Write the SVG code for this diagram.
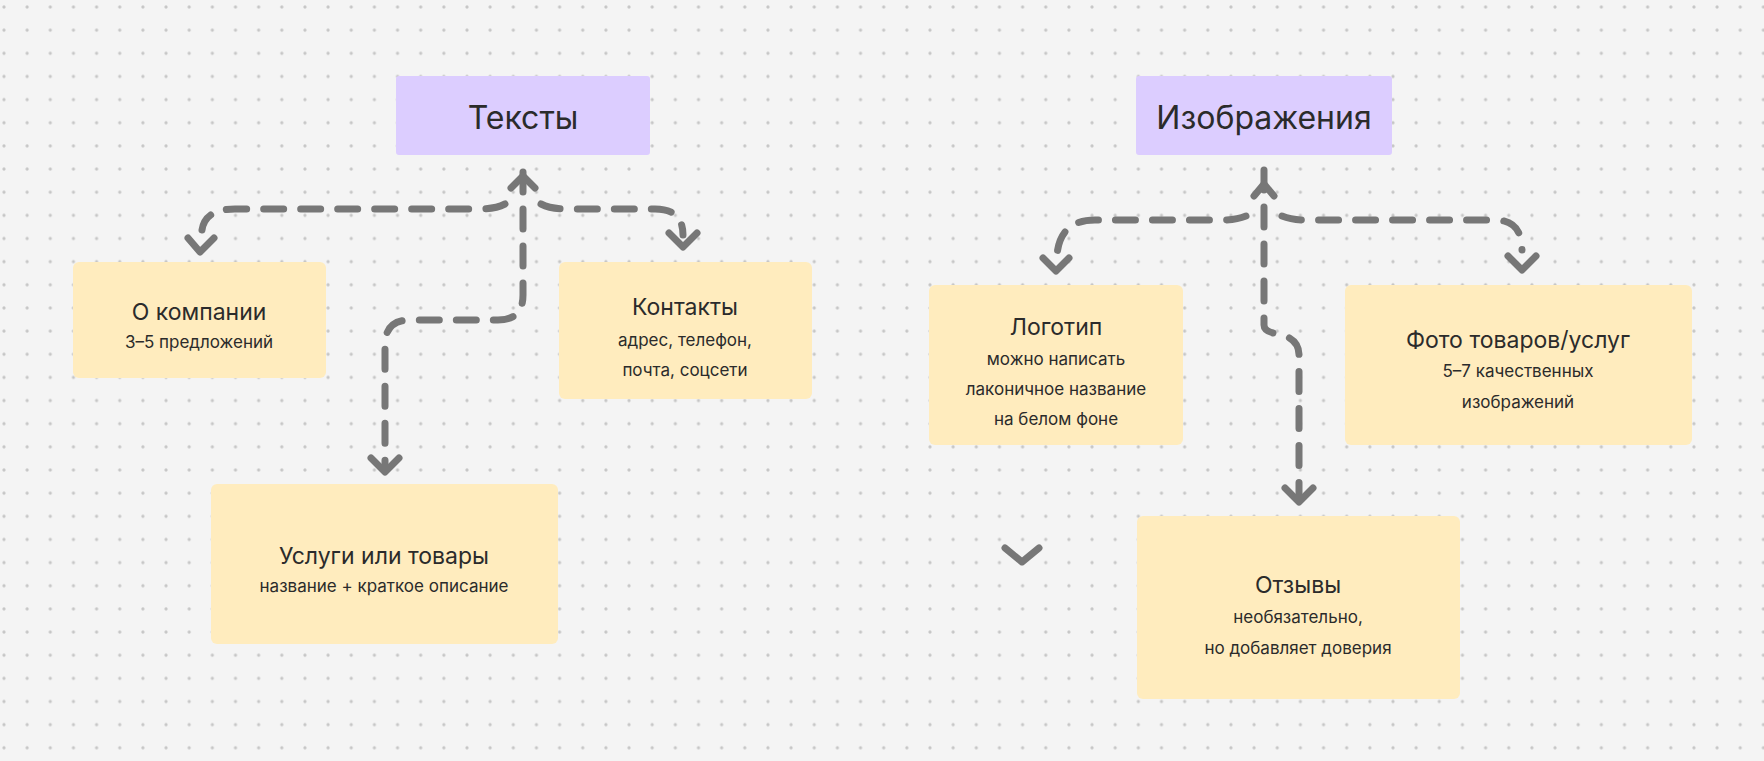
<svg xmlns="http://www.w3.org/2000/svg" width="1764" height="761" viewBox="0 0 1764 761">
<defs>
<pattern id="dots" x="4" y="7" width="23.15" height="23.15" patternUnits="userSpaceOnUse"><circle cx="0" cy="0" r="1.6" fill="#c6c6c6"/><circle cx="23.15" cy="0" r="1.6" fill="#c6c6c6"/><circle cx="0" cy="23.15" r="1.6" fill="#c6c6c6"/><circle cx="23.15" cy="23.15" r="1.6" fill="#c6c6c6"/></pattern>
</defs>
<style>
.t{font-family:Inter,"Noto Sans",sans-serif;fill:#2b2b2b;text-anchor:middle;dominant-baseline:central}
.h{font-size:32px}.n{font-size:23px}.s{font-size:17px}
.p{fill:#dccdff}.y{fill:#ffecbe}
.c{fill:none;stroke:#777;stroke-width:7;stroke-linecap:round;stroke-linejoin:round}
.d{stroke-dasharray:20 17}
</style>
<rect width="1764" height="761" fill="#f4f4f4"/>
<rect width="1764" height="761" fill="url(#dots)"/>
<g id="connectors">
<path class="c d" d="M523 172 V295 Q523 320 498 320 H410 Q385 320 385 345 V470"/>
<path class="c d" d="M505 204 Q495 209 480 209 H235 Q205 209 202 230"/>
<path class="c d" d="M541 204 Q551 209 566 209 H655 Q683 209 683 235"/>
<path class="c" d="M371 458 L385 472 L399 458 M188 238 L200 252 L214 238 M669 233 L683 247 L697 233 M511 188 L523 176 L535 188"/>
<path class="c d" d="M1264 170 V325 Q1264 332 1278 334 Q1299 338 1299 355 V500"/>
<path class="c d" d="M1246 216 Q1236 220 1222 220 H1095 Q1060 220 1057 255"/>
<path class="c d" d="M1282 216 Q1292 220 1306 220 H1495 Q1522 220 1522 250"/>
<path class="c" d="M1043 258 L1056 271 L1069 258 M1285 488 L1299 502 L1313 488 M1508 256 L1522 270 L1536 256 M1254 196 L1264 184 L1274 196 M1005 548 L1022 562 L1039 548"/>
</g>
<g id="n-texts"><rect class="p" x="396" y="76" width="254" height="79" rx="3"/><text class="t h" x="523" y="117">Тексты</text></g>
<g id="n-images"><rect class="p" x="1136" y="76" width="256" height="79" rx="3"/><text class="t h" x="1264" y="117">Изображения</text></g>
<g id="n-about"><rect class="y" x="73" y="262" width="253" height="116" rx="6"/><text class="t n" x="199" y="312">О компании</text><text class="t s" x="199" y="342">3–5 предложений</text></g>
<g id="n-contacts"><rect class="y" x="559" y="262" width="253" height="137" rx="6"/><text class="t n" x="685" y="307">Контакты</text><text class="t s" x="685" y="340">адрес, телефон,</text><text class="t s" x="685" y="370">почта, соцсети</text></g>
<g id="n-services"><rect class="y" x="211" y="484" width="347" height="160" rx="6"/><text class="t n" x="384" y="556">Услуги или товары</text><text class="t s" x="384" y="586">название + краткое описание</text></g>
<g id="n-logo"><rect class="y" x="929" y="285" width="254" height="160" rx="6"/><text class="t n" x="1056" y="327">Логотип</text><text class="t s" x="1056" y="359">можно написать</text><text class="t s" x="1056" y="389">лаконичное название</text><text class="t s" x="1056" y="419">на белом фоне</text></g>
<g id="n-photo"><rect class="y" x="1345" y="285" width="347" height="160" rx="6"/><text class="t n" x="1518" y="340">Фото товаров/услуг</text><text class="t s" x="1518" y="371">5–7 качественных</text><text class="t s" x="1518" y="402">изображений</text></g>
<g id="n-reviews"><rect class="y" x="1137" y="516" width="323" height="183" rx="6"/><text class="t n" x="1298" y="585">Отзывы</text><text class="t s" x="1298" y="617">необязательно,</text><text class="t s" x="1298" y="648">но добавляет доверия</text></g>
</svg>
